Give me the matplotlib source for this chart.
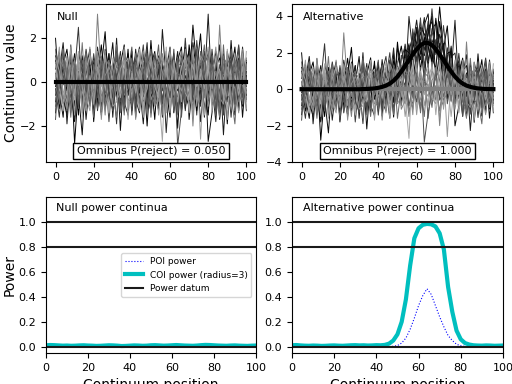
import numpy as np
import matplotlib.pyplot as plt

# continuum nodes
q = np.linspace(0, 100, 51)

# residual continua (first 10 dark, last 10 light)
noise = [
    [0.4, -1.2, 0.8, 1.5, -0.3, -1.8, 0.2, 1.1, -0.6, 0.9, -1.4, 0.3, 1.7, -0.2, -0.9, 0.6, 1.2, -1.1, 0.1, -0.5, 1.4, -1.6, 0.7, 0.2, -0.8, 1.9, -0.4, -1.3, 0.5, 1.0, -0.7, 0.3, -2.1, 0.8, 1.3, -0.1, 2.6, 0.6, 2.2, -0.5, -1.5, 0.9, 0.0, -0.6, 1.1, -1.9, 0.4, 1.6, -0.8, 0.2, 1.0],
    [-0.9, 0.5, 1.8, -0.4, 0.2, -1.1, 1.3, 0.6, -1.7, 0.1, 0.9, -0.3, -1.4, 1.0, 0.4, -0.8, 2.0, -1.2, 0.3, 0.7, -0.6, 1.5, -0.2, -1.9, 0.8, 0.1, -0.7, 1.2, -1.0, 0.5, 1.6, -0.5, 0.3, -1.3, 0.9, 1.4, -0.9, -0.2, 0.6, -1.6, 0.2, 1.1, -0.8, 0.7, -2.4, 0.4, 1.0, -0.3, 0.8, -1.1, 0.3],
    [1.2, 0.3, -0.7, -1.5, 0.9, -2.8, -0.2, -0.9, 0.4, 1.1, -1.8, 0.2, 0.6, -0.5, 1.3, -1.0, -0.3, 0.8, 1.7, -0.6, 0.1, -1.2, 1.0, 0.5, -2.0, 0.7, 1.4, -0.4, -0.8, 0.3, 1.1, -1.4, 0.2, 0.9, -0.6, -1.1, 1.8, 0.4, -0.3, 0.6, -1.0, 0.5, 1.3, -1.7, 0.0, 0.8, -0.5, 1.2, -1.3, 0.4, -0.6],
    [-0.3, -1.6, 0.5, 0.9, -1.1, 0.4, 2.5, -0.8, -0.2, 1.0, 0.6, -1.3, 0.1, 1.5, -0.7, 0.3, -1.9, 0.9, 0.5, -0.4, -1.1, 0.8, 1.6, -0.6, 0.2, -1.4, 0.7, 1.1, -0.9, 0.0, 0.4, 1.3, -1.2, -0.5, 2.0, -0.3, 0.6, -1.5, 1.0, 0.2, -0.7, 1.5, -0.2, -1.0, 0.9, 0.3, -1.6, 0.5, 1.7, -0.4, 0.1],
    [2.0, -0.5, 0.3, -1.0, 1.4, -0.2, -1.3, 0.7, 1.2, -0.9, 0.4, 1.0, -1.5, 0.2, 0.8, -0.6, 1.1, -2.2, 0.5, 1.3, -0.4, 0.1, 0.9, -1.1, 1.5, -0.7, -0.1, 0.6, -1.6, 1.2, 0.3, -0.8, 1.0, 1.6, -1.2, 0.4, -0.5, 0.9, -1.0, 1.4, -2.7, -1.4, 0.7, 1.1, -0.3, -0.9, 1.9, -0.6, 0.0, 1.2, -0.8],
    [-1.4, 0.8, -0.1, 0.6, 1.1, -1.7, 0.3, -0.4, 1.5, 0.2, -0.8, 1.6, 0.4, -1.2, -0.3, 0.9, 0.1, 1.4, -0.9, -1.5, 0.6, 1.2, -0.5, 0.3, 1.8, -1.0, -0.6, 0.5, 0.9, -2.3, 0.2, 0.7, -0.4, 1.2, -1.3, 0.5, 1.0, -0.7, -1.1, 0.8, 1.3, -0.2, -1.8, 0.6, 0.4, 1.0, -0.9, 0.1, -0.5, 1.6, -0.2],
    [0.6, 1.4, -1.0, -0.2, 0.5, 0.9, -1.5, 1.2, 0.0, -0.7, 1.1, -1.0, 0.7, 2.3, -0.6, -1.2, 0.4, 0.2, -0.8, 1.5, -1.3, 0.3, 0.8, -0.9, 1.1, 0.2, -1.7, 0.9, 0.4, -0.3, -1.6, 1.0, 0.5, -0.2, -0.9, 1.7, 0.3, -1.3, 0.7, 1.1, -0.6, 0.3, 1.4, -1.1, -0.4, 0.8, 1.2, -1.5, 0.5, -0.1, 0.9],
    [-0.2, 0.7, 1.3, -1.9, 0.4, -0.6, 0.8, 1.0, -1.2, 0.5, -0.5, 0.8, -1.1, 0.5, 1.3, -1.6, 0.7, 0.1, 1.2, -0.4, 0.9, -0.8, -1.4, 1.3, 0.0, 0.6, -0.3, -1.1, 2.4, 0.1, -0.5, 0.2, 1.4, -1.0, 0.3, -0.2, 1.1, 0.6, -1.8, -0.1, 3.1, -0.6, 0.5, 1.7, -1.3, 0.2, -0.4, 0.9, -1.1, 0.6, -0.4],
    [1.0, -0.4, -1.6, 0.8, 0.2, 1.3, -0.5, -2.4, 0.6, 1.5, -0.2, -0.6, 1.0, -0.8, 0.3, 1.8, -0.7, 0.5, -1.3, 0.9, 0.3, 1.1, -0.9, 0.6, -1.2, 1.6, 0.2, -0.5, 0.8, -1.0, 1.2, -0.4, -0.7, 0.5, 1.6, -1.7, 0.1, 0.9, -0.6, 1.3, -1.2, 0.6, 0.2, -0.5, 1.3, -0.1, -1.0, 0.4, 1.1, -1.6, 0.5],
    [-0.6, 1.1, 0.2, -0.9, 1.7, -0.3, 0.5, -1.1, 0.9, -0.2, 1.3, 0.0, -0.7, 0.6, -1.8, 0.4, 1.5, -0.9, -0.1, 0.8, -1.5, 0.6, 0.4, 1.7, -0.7, -1.3, 0.9, 0.2, -0.4, 1.4, -0.9, 1.5, -1.4, 0.1, 0.7, 0.4, -0.8, 1.9, 0.3, -1.2, 0.5, -1.0, 0.9, 0.3, -1.5, 1.4, 0.6, -0.7, 0.1, 0.9, -1.3],
    [0.9, -0.8, 0.4, 1.2, -1.4, 0.1, 0.7, -0.3, -1.0, 1.6, -0.9, 3.1, 0.2, -1.5, 0.9, 0.6, -0.4, 1.2, -0.6, -0.3, 1.0, -1.7, 0.5, -0.2, 0.8, 1.1, -1.1, -0.6, 1.3, 0.4, -0.3, -1.1, 0.9, 0.7, -0.4, 1.2, -2.0, 0.8, 0.3, -0.7, 1.1, 0.4, -1.2, 2.6, -0.5, 0.3, 0.8, -1.3, 0.2, 1.5, -0.5],
    [-1.1, 0.3, 1.5, 0.0, -0.7, 0.9, -1.2, 0.6, 1.4, -0.5, 0.2, -1.2, 0.8, 1.1, -0.2, -0.9, 1.3, -1.4, 0.4, 0.6, -0.2, 0.9, -1.0, 0.4, 1.2, -0.5, 0.3, 1.7, -1.2, -0.7, 0.6, -0.2, 1.1, -1.6, 0.5, 0.8, -0.4, -0.9, 1.4, 0.3, -0.4, 1.2, -0.7, -1.1, 0.6, -0.2, 1.5, -0.8, 0.9, 0.1, 1.1],
    [0.2, 1.6, -0.9, -0.4, 0.8, -1.5, 1.0, 0.3, -0.7, -1.3, 0.7, 0.5, -0.9, 1.4, -1.1, 0.2, 0.9, -0.2, 1.6, -1.7, 0.5, -0.3, 1.2, -0.8, -0.3, 1.0, 0.6, -1.5, 0.2, 0.8, -1.4, 0.6, 0.3, -0.9, 1.5, -0.5, 0.2, 1.0, -2.6, 0.7, 1.6, -0.3, 0.5, -0.9, 1.0, -1.7, 0.3, 0.7, -0.2, 1.3, -0.9],
    [1.5, -1.0, 0.1, 0.6, -0.5, 1.1, -0.8, -0.1, 1.3, 0.4, -1.6, 0.9, 1.2, -0.4, 0.3, -1.0, 0.6, 0.8, -1.1, 0.2, 1.1, -0.6, -0.2, 0.9, -1.4, 0.5, 1.3, -0.8, 0.1, -1.1, 0.8, 0.3, -1.5, 1.1, 0.0, -0.6, 1.3, -0.4, 0.5, 1.7, -0.8, 0.4, -1.3, 0.2, 0.8, 1.1, -0.6, -1.9, 1.0, 0.3, 0.6],
    [-0.5, 0.2, 1.0, -1.3, 0.7, 0.3, -0.6, 1.8, -0.9, 0.0, 0.6, -0.4, -1.3, 0.7, 1.0, -0.5, -1.6, 0.9, 0.5, -0.8, -0.9, 1.3, 0.1, -0.6, 0.4, 1.5, -0.9, 0.3, -1.5, 0.9, 0.1, -0.9, 0.6, 1.4, -0.8, 0.2, -1.2, 0.4, 1.0, -0.6, 1.4, 0.1, -0.5, -1.6, 1.2, 0.5, -0.2, 1.1, -0.9, -0.4, 0.7],
    [0.8, -0.3, -1.3, 1.1, -0.1, -0.8, 1.4, -1.6, 0.6, 1.2, -0.3, 1.2, -0.5, -0.1, -1.4, 1.1, 0.6, -0.7, 0.8, 1.1, -0.7, 0.4, 1.5, -1.2, 0.6, -0.2, 1.0, -0.4, -2.7, 1.6, -1.1, 0.9, -0.3, 0.7, 1.2, -1.4, 0.8, -0.2, 0.4, -1.5, 0.7, -0.9, 1.2, 0.4, -0.6, -1.2, 0.6, 1.3, -0.3, -0.9, 1.4],
    [-1.7, 0.9, 0.6, -0.2, 1.2, 0.5, -1.1, 0.4, -0.4, 0.7, 1.0, -0.7, 0.3, 0.9, -0.6, -1.3, 0.2, 1.0, -1.0, 0.4, 1.6, -1.1, 0.7, 0.3, -1.0, -0.1, 1.2, 0.7, -0.9, 0.2, -0.7, 1.2, -2.9, -1.3, -0.2, 0.9, -0.6, 1.5, -0.8, 0.5, -0.2, 1.0, -1.5, 0.8, 0.3, -0.4, 1.0, -1.0, 1.6, -0.7, 0.2],
    [0.3, 1.3, -0.6, -1.2, 0.0, 1.0, 0.4, -1.4, 1.1, -0.8, -0.4, 1.4, -1.7, 0.3, 0.7, 0.2, -0.8, -0.5, 1.4, 0.0, -0.4, 0.2, -1.3, 1.4, 0.9, -0.8, -0.4, 1.1, 0.5, -1.4, 1.5, -0.6, 0.0, -0.4, 1.0, 0.6, -1.6, 0.3, 1.2, 0.9, -1.1, 0.2, 1.6, -0.7, -1.0, 0.7, 0.2, -0.3, -1.4, 1.1, -0.1],
    [-0.8, -0.2, 1.4, 0.3, -1.6, 0.8, -0.4, 1.0, 0.2, -1.1, 0.8, 0.1, 1.1, -1.0, 0.5, -0.2, 1.7, 0.3, -1.5, 0.6, -1.1, 0.7, 0.4, -0.4, 1.3, -1.6, 0.1, 0.8, 1.0, -0.5, 0.9, -1.3, 0.4, 0.2, -1.0, 1.1, 0.5, -0.6, -0.2, 1.2, -0.3, 0.8, 0.4, -1.2, 1.7, -0.6, -0.8, 1.0, 0.4, -1.0, 0.8],
    [1.1, 0.5, -0.4, -0.9, 1.6, -0.6, 0.9, -0.2, -1.3, 0.3, -1.0, 0.7, -0.2, 1.2, 0.1, -1.1, -0.9, 0.6, 1.0, -1.2, 0.4, -0.5, 0.6, -1.6, 0.3, 1.2, -0.2, -0.7, 1.1, 0.6, -0.4, 1.0, -0.9, 0.3, -0.5, -0.8, 1.6, -1.1, 0.6, -0.3, 1.0, -1.3, 0.1, 0.6, -0.8, 1.5, -1.1, 0.4, -0.6, 0.7, -1.2],
]
noise_grays = [0.0, 0.1, 0.0, 0.2, 0.05, 0.15, 0.0, 0.1, 0.05, 0.25,
               0.5, 0.35, 0.6, 0.4, 0.45, 0.65, 0.3, 0.55, 0.4, 0.6]

# mean continua
null_mean = [0.0] * 51
signal = [0.0] * 16 + [0.01, 0.015, 0.025, 0.045, 0.08, 0.13, 0.2, 0.31, 0.47, 0.69,
                       0.97, 1.28, 1.6, 1.92, 2.2, 2.42, 2.54, 2.54, 2.42, 2.2,
                       1.92, 1.6, 1.28, 0.97, 0.69, 0.47, 0.31, 0.2, 0.13, 0.08,
                       0.045, 0.025, 0.015, 0.01, 0.005]

# power continua
coi_null = [0.012, 0.014, 0.013, 0.011, 0.009, 0.010, 0.008, 0.009, 0.011, 0.012,
            0.010, 0.009, 0.007, 0.008, 0.010, 0.012, 0.011, 0.009, 0.006, 0.007,
            0.009, 0.011, 0.010, 0.008, 0.009, 0.012, 0.013, 0.011, 0.009, 0.010,
            0.012, 0.014, 0.012, 0.010, 0.009, 0.008, 0.010, 0.013, 0.015, 0.014,
            0.012, 0.010, 0.009, 0.008, 0.010, 0.011, 0.009, 0.008, 0.007, 0.009, 0.010]
poi_null = [0.002, 0.001, 0.002, 0.003, 0.001, 0.002, 0.002, 0.001, 0.003, 0.002,
            0.001, 0.002, 0.001, 0.001, 0.002, 0.003, 0.002, 0.001, 0.001, 0.002,
            0.002, 0.003, 0.002, 0.001, 0.001, 0.002, 0.002, 0.003, 0.001, 0.002,
            0.003, 0.002, 0.001, 0.002, 0.001, 0.001, 0.002, 0.003, 0.002, 0.002,
            0.001, 0.002, 0.002, 0.001, 0.002, 0.003, 0.001, 0.002, 0.001, 0.002, 0.002]
coi_alt = [0.012, 0.014, 0.011, 0.009, 0.008, 0.010, 0.009, 0.007, 0.008, 0.010,
           0.011, 0.009, 0.008, 0.010, 0.012, 0.013, 0.011, 0.012, 0.010, 0.011,
           0.013, 0.012, 0.015, 0.025, 0.05, 0.1, 0.2, 0.38, 0.65, 0.87,
           0.95, 0.978, 0.985, 0.982, 0.965, 0.91, 0.78, 0.48, 0.28, 0.13,
           0.06, 0.03, 0.018, 0.012, 0.01, 0.009, 0.011, 0.01, 0.008, 0.009, 0.01]
poi_alt = [0.0] * 23 + [0.001, 0.004, 0.01, 0.03, 0.07, 0.14, 0.23, 0.33, 0.41, 0.465,
                        0.42, 0.33, 0.24, 0.16, 0.09, 0.05, 0.02, 0.008, 0.003, 0.001] + [0.0] * 8
p_reject = [0.050, 1.000]
power_levels = [0.0, 0.8, 1.0]

plt.rcParams['xtick.labelsize'] = 8
plt.rcParams['ytick.labelsize'] = 8

fig = plt.figure(figsize=(5.12, 3.84), dpi=100)
ax0 = fig.add_axes([0.0898, 0.578, 0.410, 0.411])
ax1 = fig.add_axes([0.5703, 0.578, 0.412, 0.411])
ax2 = fig.add_axes([0.0898, 0.0807, 0.410, 0.406])
ax3 = fig.add_axes([0.5703, 0.0807, 0.412, 0.406])

sig = np.array(signal)
for i, (row, g) in enumerate(zip(noise, noise_grays)):
    ax0.plot(q, row, color=str(g), lw=0.7)
    if i < 10:
        ax1.plot(q, np.array(row) + sig, color=str(g), lw=0.7)
    else:
        ax1.plot(q, row, color=str(g), lw=0.7)

ax0.plot(q, null_mean, color='k', lw=3)
ax1.plot(q, null_mean, color='0.5', lw=3)
ax1.plot(q, signal, color='k', lw=3)

for ax, name, p in zip([ax0, ax1], ['Null', 'Alternative'], p_reject):
    ax.text(0.05, 0.9, name, transform=ax.transAxes, fontsize=8)
    ax.text(0.5, 0.07, 'Omnibus P(reject) = %.3f' % p, transform=ax.transAxes,
            fontsize=8, ha='center', va='center',
            bbox=dict(facecolor='w', edgecolor='k', boxstyle='square,pad=0.3'))
    ax.set_xlim(-5, 105)
    ax.set_xticks([0, 20, 40, 60, 80, 100])
ax0.set_ylim(-3.64, 3.55)
ax0.set_yticks([-2, 0, 2])
ax1.set_ylim(-4, 4.67)
ax1.set_yticks([-4, -2, 0, 2, 4])
ax0.set_ylabel('Continuum value', fontsize=10, labelpad=1)

panels = [(ax2, poi_null, coi_null, 'Null power continua'),
          (ax3, poi_alt, coi_alt, 'Alternative power continua')]
for ax, poi, coi, title in panels:
    ax.plot(q, poi, 'b:', lw=0.8, label='POI power')
    ax.plot(q, coi, color='c', lw=3, label='COI power (radius=3)')
    for lev in power_levels:
        ax.axhline(lev, color='0.1', lw=1.5, label='Power datum' if lev == 0.0 else None)
    ax.text(0.05, 0.93, title, transform=ax.transAxes, fontsize=8, va='center')
    ax.set_xlim(0, 100)
    ax.set_ylim(-0.05, 1.2)
    ax.set_yticks([0, 0.2, 0.4, 0.6, 0.8, 1.0])
    ax.set_xlabel('Continuum position', fontsize=10)
ax2.set_ylabel('Power', fontsize=10, labelpad=1)
ax2.legend(loc='center right', fontsize=6.5)

fig.savefig('out.png', dpi=100)
